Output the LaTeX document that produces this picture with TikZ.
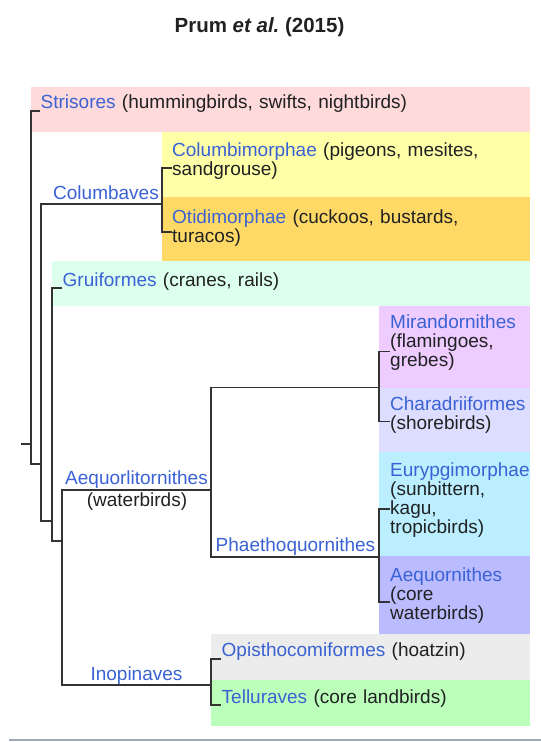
\documentclass[tikz,border=0pt]{standalone}
\usepackage{fontspec}
\setmainfont{Liberation Sans}
\definecolor{link}{RGB}{58,98,212}
\definecolor{ink}{RGB}{32,33,34}
\definecolor{branch}{RGB}{51,51,51}
\definecolor{rule}{RGB}{162,169,177}
\definecolor{cStri}{RGB}{255,218,218}
\definecolor{cColm}{RGB}{255,255,168}
\definecolor{cOtid}{RGB}{255,217,102}
\definecolor{cGrui}{RGB}{220,255,238}
\definecolor{cMira}{RGB}{238,204,255}
\definecolor{cChar}{RGB}{221,221,255}
\definecolor{cEury}{RGB}{187,238,255}
\definecolor{cAequ}{RGB}{187,187,255}
\definecolor{cOpis}{RGB}{236,236,236}
\definecolor{cTell}{RGB}{187,255,187}
\newcommand{\cl}[1]{\textcolor{link}{#1}}
\begin{document}
\begin{tikzpicture}[x=1pt,y=-1pt,
  leaf/.style={font=\fontsize{19}{19}\selectfont, text=ink, inner sep=0pt,
    anchor=base west, align=left, text width=#1},
  leaf/.default=150pt,
  cladename/.style={font=\fontsize{19}{19}\selectfont, text=link, inner sep=0pt, anchor=base},
  clade/.style={draw=branch, line width=1.2pt},
  band/.style={fill=#1, draw=none}]
\useasboundingbox (0,0) rectangle (541,742);

% title
\node[font=\fontsize{20.5}{22}\selectfont\bfseries, text=ink, inner sep=0pt, anchor=base]
  (title) at (259.5,32) {Prum {\itshape et al.}\ (2015)};

% coloured bands behind the leaves
\fill[band=cStri] (31,87)   rectangle (530,132);
\fill[band=cColm] (162,132) rectangle (530,197);
\fill[band=cOtid] (162,197) rectangle (530,261);
\fill[band=cGrui] (52,261)  rectangle (530,306);
\fill[band=cMira] (379,306) rectangle (530,388);
\fill[band=cChar] (379,388) rectangle (530,452);
\fill[band=cEury] (379,452) rectangle (530,556);
\fill[band=cAequ] (379,556) rectangle (530,634);
\fill[band=cOpis] (211,634) rectangle (530,680);
\fill[band=cTell] (211,680) rectangle (530,726);

% leaf labels
\node[leaf=480pt] (stri) at (40.5,108) {\cl{Strisores} (hummingbirds, swifts, nightbirds)};
\node[leaf=350pt] (colm) at (172,156.5) {\cl{Columbimorphae} (pigeons, mesites,\\sandgrouse)};
\node[leaf=350pt] (otid) at (172,223) {\cl{Otidimorphae} (cuckoos, bustards,\\turacos)};
\node[leaf=450pt] (grui) at (62.5,286) {\cl{Gruiformes} (cranes, rails)};
\node[leaf] (mira) at (390,328.5) {\cl{Mirandornithes}\\(flamingoes,\\grebes)};
\node[leaf] (char) at (390,410.5) {\cl{Charadriiformes}\\(shorebirds)};
\node[leaf] (eury) at (390,476) {\cl{Eurypgimorphae}\\(sunbittern,\\kagu,\\tropicbirds)};
\node[leaf] (aequ) at (390,581) {\cl{Aequornithes}\\(core\\waterbirds)};
\node[leaf=300pt] (opis) at (221.5,656.5) {\cl{Opisthocomiformes} (hoatzin)};
\node[leaf=300pt] (tell) at (221.5,703) {\cl{Telluraves} (core landbirds)};

% names of inner clades
\node[cladename] (columbaves) at (106,199) {Columbaves};
\node[cladename] (aequorlit) at (136.5,484.5) {Aequorlitornithes};
\node[cladename, text=ink] (waterbirds) at (137,506.5) {(waterbirds)};
\node[cladename] (phaetho) at (295.5,551.5) {Phaethoquornithes};
\node[cladename] (inopinaves) at (136.5,680) {Inopinaves};

% branch points and leaf tips
\coordinate (root)  at (21,444);
\coordinate (n1)    at (31,444);
\coordinate (n2)    at (41,464);
\coordinate (n3)    at (52,521);
\coordinate (n4)    at (62,541);
\coordinate (jColb) at (162,204);
\coordinate (jAeql) at (211,490);
\coordinate (jMiCh) at (379,387.5);
\coordinate (jPhae) at (379,557);
\coordinate (jInop) at (211,685);
\coordinate (tStri) at (40,111);
\coordinate (tColm) at (172,168);
\coordinate (tOtid) at (172,232);
\coordinate (tGrui) at (62,288);
\coordinate (tMira) at (390,351.5);
\coordinate (tChar) at (390,421.5);
\coordinate (tEury) at (390,509);
\coordinate (tAequ) at (390,602);
\coordinate (tOpis) at (221,659);
\coordinate (tTell) at (221,705);

% branches
\draw[clade] (root) -- (n1);
\draw[clade] (tStri) -| (n1) |- (n2);
\draw[clade] (jColb) -| (n2) |- (n3);
\draw[clade] (tColm) -| (jColb) |- (tOtid);
\draw[clade] (tGrui) -| (n3) |- (n4);
\draw[clade] (jAeql) -| (n4) |- (jInop);
\draw[clade] (jMiCh) -| (jAeql) |- (jPhae);
\draw[clade] (tMira) -| (jMiCh) |- (tChar);
\draw[clade] (tEury) -| (jPhae) |- (tAequ);
\draw[clade] (tOpis) -| (jInop) |- (tTell);

% closing rule
\coordinate (ruleL) at (9,740);
\coordinate (ruleR) at (541,740);
\draw[draw=rule, line width=1.6pt] (ruleL) -- (ruleR);
\end{tikzpicture}
\end{document}
